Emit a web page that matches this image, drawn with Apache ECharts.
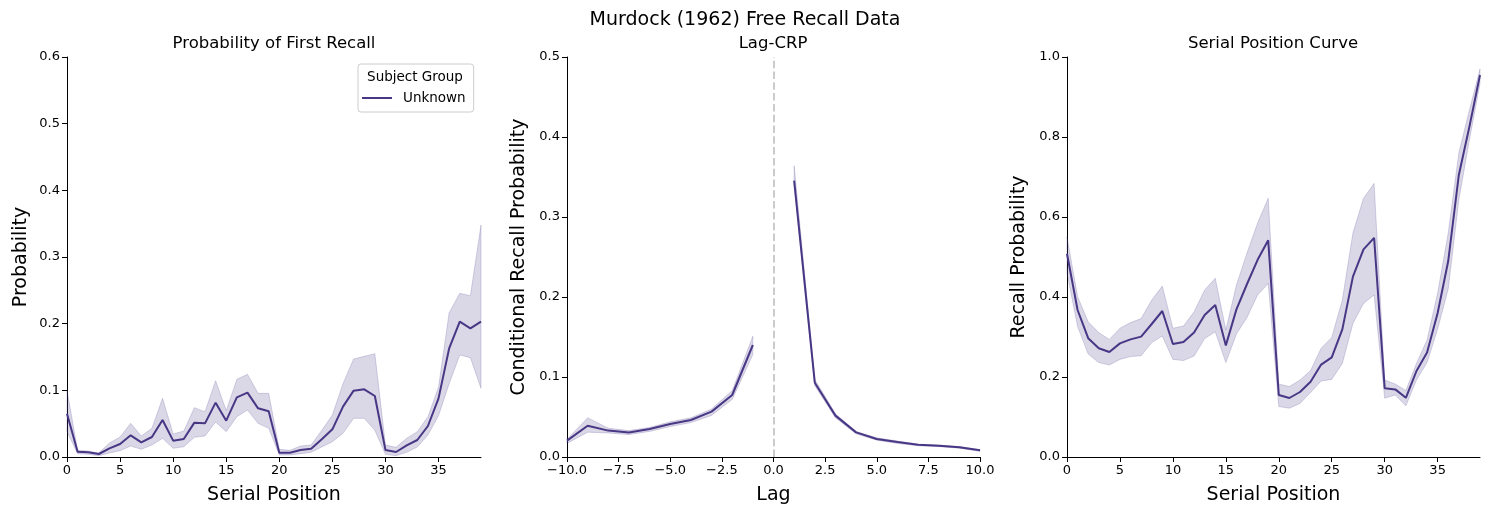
<!DOCTYPE html>
<html>
<head>
<meta charset="utf-8">
<script src="https://cdn.jsdelivr.net/npm/echarts@6/dist/echarts.min.js"></script>
<style>
  html, body { margin: 0; padding: 0; background: #fff; }
  #chart { width: 1489px; height: 515px; }
</style>
</head>
<body>
<div id="chart"></div>
<script>
// serial positions 0..39
var positions = []
for (var p = 0; p < 40; p++) positions.push(p)

// probability of first recall (mean + 95% band)
var pfrMean = [0.065, 0.008, 0.007, 0.0045, 0.013, 0.0195, 0.0325, 0.022, 0.030, 0.0555,
  0.0245, 0.027, 0.0515, 0.0505, 0.0815, 0.0545, 0.0895, 0.0965, 0.073, 0.0685,
  0.0065, 0.0065, 0.0105, 0.0125, 0.0265, 0.0415, 0.0755, 0.0995, 0.1015, 0.0915,
  0.0105, 0.0075, 0.0175, 0.0255, 0.0465, 0.088, 0.163, 0.203, 0.193, 0.203]
var pfrLow = [0.038, 0.005, 0.004, 0.002, 0.006, 0.0095, 0.0165, 0.0115, 0.018, 0.028,
  0.013, 0.0155, 0.0295, 0.0315, 0.0525, 0.038, 0.0605, 0.0705, 0.0505, 0.043,
  0.003, 0.003, 0.005, 0.007, 0.015, 0.023, 0.0355, 0.058, 0.058, 0.04,
  0.004, 0.002, 0.007, 0.015, 0.033, 0.062, 0.11, 0.153, 0.149, 0.103]
var pfrHigh = [0.10, 0.010, 0.009, 0.006, 0.021, 0.030, 0.0505, 0.0315, 0.043, 0.088,
  0.0345, 0.039, 0.074, 0.068, 0.1145, 0.0695, 0.1165, 0.124, 0.0955, 0.0955,
  0.0115, 0.010, 0.0165, 0.018, 0.04, 0.063, 0.11, 0.147, 0.151, 0.155,
  0.018, 0.0145, 0.028, 0.038, 0.0605, 0.105, 0.2165, 0.2455, 0.242, 0.348]

// lag-CRP, lag 0 is undefined
var lags = [-10, -9, -8, -7, -6, -5, -4, -3, -2, -1, 0, 1, 2, 3, 4, 5, 6, 7, 8, 9, 10]
var crpMean = [0.0204, 0.039, 0.033, 0.0307, 0.0351, 0.0413, 0.0463, 0.0567, 0.0775, 0.140,
  null, 0.3454, 0.0929, 0.0517, 0.0308, 0.0225, 0.0188, 0.0154, 0.0142, 0.0121, 0.0084]
var crpLow = [0.017, 0.031, 0.030, 0.028, 0.032, 0.038, 0.043, 0.052, 0.072, 0.128,
  null, 0.340, 0.089, 0.049, 0.029, 0.021, 0.017, 0.014, 0.013, 0.011, 0.007]
var crpHigh = [0.022, 0.049, 0.036, 0.033, 0.037, 0.044, 0.049, 0.060, 0.083, 0.151,
  null, 0.364, 0.097, 0.054, 0.032, 0.024, 0.020, 0.016, 0.015, 0.013, 0.009]

// serial position curve
var spcMean = [0.508, 0.3675, 0.297, 0.272, 0.2625, 0.284, 0.294, 0.301, 0.3325, 0.365,
  0.2825, 0.2875, 0.311, 0.355, 0.38, 0.279, 0.369, 0.4325, 0.493, 0.542,
  0.155, 0.1475, 0.1625, 0.188, 0.231, 0.249, 0.319, 0.451, 0.519, 0.548,
  0.172, 0.169, 0.148, 0.215, 0.261, 0.36, 0.49, 0.705, 0.826, 0.955]
var spcLow = [0.46, 0.326, 0.2575, 0.236, 0.23, 0.244, 0.251, 0.253, 0.286, 0.3025,
  0.244, 0.241, 0.2525, 0.296, 0.313, 0.236, 0.3075, 0.349, 0.405, 0.434,
  0.126, 0.122, 0.134, 0.161, 0.19, 0.194, 0.234, 0.334, 0.384, 0.405,
  0.147, 0.155, 0.128, 0.1925, 0.236, 0.32, 0.42, 0.6425, 0.7925, 0.934]
var spcHigh = [0.55, 0.401, 0.338, 0.311, 0.294, 0.322, 0.336, 0.346, 0.3925, 0.4275,
  0.322, 0.3275, 0.363, 0.4175, 0.447, 0.3175, 0.43, 0.51, 0.585, 0.647,
  0.1825, 0.176, 0.1925, 0.216, 0.272, 0.299, 0.3925, 0.56, 0.647, 0.684,
  0.1925, 0.1825, 0.166, 0.234, 0.2925, 0.41, 0.56, 0.76, 0.8675, 0.97]

var posTicks = [0, 5, 10, 15, 20, 25, 30, 35]

var lineColor = '#483785'
var bandFill = 'rgba(72, 55, 133, 0.2)'
var font = 'DejaVu Sans'

var chart = echarts.init(document.getElementById('chart'))

function pairs(xs, ys) {
  return xs.map(function (x, i) { return [x, ys[i]] })
}

// one polygon per run of non-null values, drawn once through api.coord
function bandSeries(xs, lo, hi, axisIdx) {
  return {
    type: 'custom',
    xAxisIndex: axisIdx,
    yAxisIndex: axisIdx,
    silent: true,
    z: 1,
    data: xs.map(function (x, i) { return [x, lo[i], hi[i]] }),
    encode: { x: 0, y: [1, 2] },
    renderItem: function (params, api) {
      if (params.dataIndex !== 0) return
      var polys = []
      var top = [], bot = []
      function flush() {
        if (top.length > 1) {
          polys.push({
            type: 'polygon',
            shape: { points: top.concat(bot.reverse()) },
            style: { fill: bandFill, stroke: bandFill, lineWidth: 1 }
          })
        }
        top = []; bot = []
      }
      for (var i = 0; i < xs.length; i++) {
        if (lo[i] == null) { flush(); continue }
        top.push(api.coord([xs[i], hi[i]]))
        bot.push(api.coord([xs[i], lo[i]]))
      }
      flush()
      return { type: 'group', children: polys }
    }
  }
}

function meanSeries(xs, ys, axisIdx, extra) {
  var s = {
    name: 'Unknown',
    type: 'line',
    xAxisIndex: axisIdx,
    yAxisIndex: axisIdx,
    data: pairs(xs, ys),
    showSymbol: false,
    connectNulls: false,
    z: 3,
    itemStyle: { color: lineColor },
    lineStyle: { color: lineColor, width: 2 }
  }
  return Object.assign(s, extra || {})
}

var axisBase = {
  axisLine: { onZero: false, lineStyle: { color: '#000', width: 1 } },
  axisTick: { length: 5, lineStyle: { color: '#000' } },
  axisLabel: { color: '#000', fontSize: 13, fontFamily: font, margin: 7 },
  splitLine: { show: false },
  nameTextStyle: { color: '#000', fontSize: 19, fontFamily: font }
}

function xAxis(idx, min, max, interval, fmt, custom) {
  var a = echarts.util.merge({
    type: 'value', gridIndex: idx, min: min, max: max, interval: interval,
    name: idx === 1 ? 'Lag' : 'Serial Position',
    nameLocation: 'middle', nameGap: 29
  }, axisBase, true)
  a.axisLabel = Object.assign({}, axisBase.axisLabel, { formatter: fmt })
  if (custom) {
    a.axisLabel.customValues = custom
    a.axisTick = Object.assign({}, axisBase.axisTick, { customValues: custom })
  }
  return a
}

function yAxis(idx, max, interval, name, gap) {
  var a = echarts.util.merge({
    type: 'value', gridIndex: idx, min: 0, max: max, interval: interval,
    name: name, nameLocation: 'middle', nameGap: gap
  }, axisBase, true)
  a.axisLabel = Object.assign({}, axisBase.axisLabel, {
    formatter: function (v) { return v.toFixed(1) }
  })
  return a
}

function signed(v) {
  return (v < 0 ? '\u2212' : '') + Math.abs(v).toFixed(1)
}

chart.setOption({
  animation: false,
  textStyle: { fontFamily: font },
  title: [
    { text: 'Murdock (1962) Free Recall Data', left: 745, top: 11, textAlign: 'center', padding: 0,
      textStyle: { fontSize: 19, fontWeight: 'normal', color: '#000' } },
    { text: 'Probability of First Recall', left: 274, top: 35, textAlign: 'center', padding: 0,
      textStyle: { fontSize: 16.5, fontWeight: 'normal', color: '#000' } },
    { text: 'Lag-CRP', left: 773, top: 35, textAlign: 'center', padding: 0,
      textStyle: { fontSize: 16.5, fontWeight: 'normal', color: '#000' } },
    { text: 'Serial Position Curve', left: 1273, top: 35, textAlign: 'center', padding: 0,
      textStyle: { fontSize: 16.5, fontWeight: 'normal', color: '#000' } },
    { text: 'Subject Group', left: 415, top: 70, textAlign: 'center', padding: 0, z: 10,
      textStyle: { fontSize: 13.5, fontWeight: 'normal', color: '#000' } }
  ],
  legend: {
    data: ['Unknown'],
    left: 358,
    top: 64,
    padding: [27, 8, 7, 4],
    icon: 'rect',
    itemWidth: 30,
    itemHeight: 2,
    borderColor: '#cccccc',
    borderWidth: 1,
    borderRadius: 3,
    backgroundColor: 'rgba(255,255,255,0.8)',
    textStyle: { fontSize: 13.5, color: '#000', padding: [0, 0, 0, 6] }
  },
  grid: [
    { left: 67, top: 57, width: 414, height: 400 },
    { left: 567, top: 57, width: 413, height: 400 },
    { left: 1067, top: 57, width: 413, height: 400 }
  ],
  xAxis: [
    xAxis(0, 0, 39, 5, function (v) { return String(v) }, posTicks),
    xAxis(1, -10, 10, 2.5, signed),
    xAxis(2, 0, 39, 5, function (v) { return String(v) }, posTicks)
  ],
  yAxis: [
    yAxis(0, 0.6, 0.1, 'Probability', 36),
    yAxis(1, 0.5, 0.1, 'Conditional Recall Probability', 38),
    yAxis(2, 1.0, 0.2, 'Recall Probability', 38)
  ],
  series: [
    bandSeries(positions, pfrLow, pfrHigh, 0),
    meanSeries(positions, pfrMean, 0),
    bandSeries(lags, crpLow, crpHigh, 1),
    meanSeries(lags, crpMean, 1, {
      markLine: {
        silent: true,
        symbol: 'none',
        label: { show: false },
        lineStyle: { color: '#bbbbbb', width: 1.5, type: [7.5, 3.3] },
        data: [{ xAxis: 0 }]
      }
    }),
    bandSeries(positions, spcLow, spcHigh, 2),
    meanSeries(positions, spcMean, 2)
  ]
})
</script>
</body>
</html>
